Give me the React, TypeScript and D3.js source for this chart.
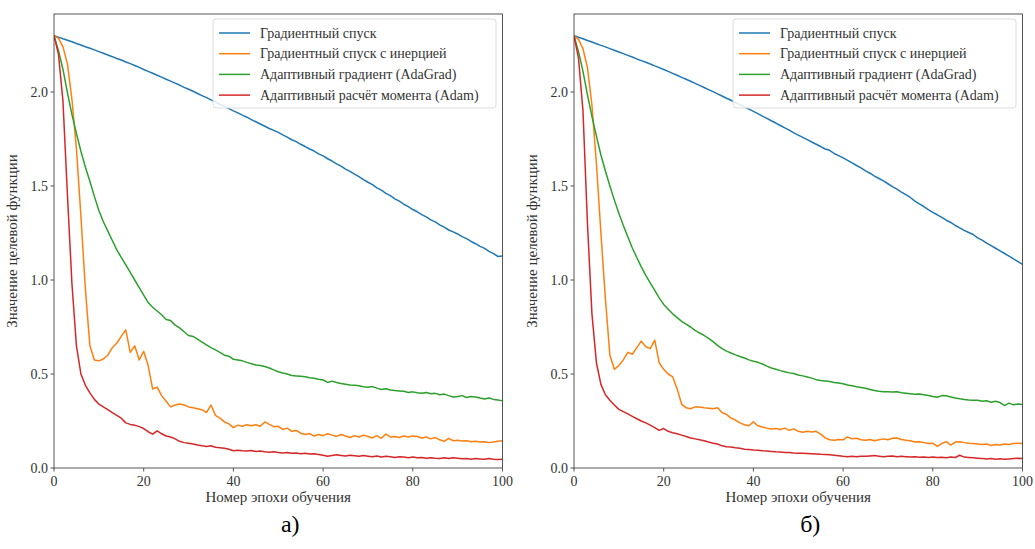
import React from "react";
import * as d3 from "d3";

// epochs 0..100
const epochs = d3.range(0, 101);

const seriesNames = [
  "Градиентный спуск",
  "Градиентный спуск с инерцией",
  "Адаптивный градиент (AdaGrad)",
  "Адаптивный расчёт момента (Adam)",
];
const colors = ["#1f77b4", "#ff7f0e", "#2ca02c", "#d62728"];

const xTicks = [0, 20, 40, 60, 80, 100];
const yTicks = [0, 0.5, 1.0, 1.5, 2.0];

// panel a)
const gdA = [
  2.300, 2.292, 2.283, 2.275, 2.267, 2.258, 2.250, 2.241, 2.233, 2.224, 2.215,
  2.206, 2.197, 2.188, 2.178, 2.170, 2.160, 2.151, 2.141, 2.131, 2.120,
  2.110, 2.100, 2.089, 2.079, 2.068, 2.058, 2.047, 2.037, 2.025, 2.015,
  2.004, 1.992, 1.981, 1.970, 1.958, 1.947, 1.935, 1.924, 1.912, 1.900,
  1.889, 1.877, 1.866, 1.853, 1.842, 1.830, 1.818, 1.806, 1.796, 1.785,
  1.772, 1.760, 1.746, 1.736, 1.722, 1.710, 1.697, 1.686, 1.671, 1.660,
  1.645, 1.633, 1.618, 1.606, 1.590, 1.578, 1.563, 1.550, 1.534, 1.520,
  1.507, 1.490, 1.478, 1.461, 1.449, 1.432, 1.420, 1.403, 1.390, 1.375,
  1.363, 1.348, 1.336, 1.320, 1.309, 1.293, 1.281, 1.266, 1.256, 1.245,
  1.231, 1.220, 1.205, 1.193, 1.179, 1.168, 1.152, 1.140, 1.125, 1.128, 1.110,
];
const momA = [
  2.300, 2.285, 2.240, 2.150, 1.960, 1.700, 1.340, 0.950, 0.650, 0.575, 0.570,
  0.580, 0.600, 0.640, 0.665, 0.700, 0.735, 0.615, 0.650, 0.575, 0.620,
  0.545, 0.420, 0.430, 0.385, 0.355, 0.325, 0.335, 0.340, 0.335, 0.325,
  0.320, 0.315, 0.310, 0.295, 0.335, 0.280, 0.265, 0.245, 0.235, 0.215,
  0.228, 0.222, 0.230, 0.225, 0.230, 0.222, 0.245, 0.232, 0.220, 0.222,
  0.205, 0.212, 0.195, 0.200, 0.185, 0.178, 0.183, 0.170, 0.178, 0.172,
  0.182, 0.175, 0.168, 0.178, 0.170, 0.162, 0.172, 0.165, 0.175, 0.168,
  0.160, 0.172, 0.158, 0.180, 0.165, 0.168, 0.162, 0.170, 0.165, 0.170,
  0.168, 0.160, 0.165, 0.155, 0.162, 0.150, 0.142, 0.158, 0.145, 0.148,
  0.143, 0.145, 0.140, 0.142, 0.138, 0.140, 0.135, 0.138, 0.142, 0.145,
];
const adaA = [
  2.300, 2.220, 2.120, 1.995, 1.880, 1.780, 1.685, 1.600, 1.525, 1.445, 1.370,
  1.310, 1.260, 1.210, 1.160, 1.120, 1.080, 1.040, 1.000, 0.960, 0.920,
  0.880, 0.855, 0.835, 0.815, 0.790, 0.785, 0.760, 0.745, 0.725, 0.705,
  0.700, 0.685, 0.670, 0.655, 0.640, 0.628, 0.615, 0.600, 0.595, 0.578,
  0.575, 0.570, 0.562, 0.555, 0.548, 0.545, 0.540, 0.532, 0.522, 0.512,
  0.505, 0.500, 0.492, 0.490, 0.488, 0.485, 0.480, 0.477, 0.472, 0.468,
  0.455, 0.462, 0.455, 0.450, 0.446, 0.442, 0.440, 0.437, 0.432, 0.430,
  0.433, 0.425, 0.418, 0.422, 0.415, 0.412, 0.410, 0.408, 0.402, 0.405,
  0.400, 0.398, 0.402, 0.395, 0.397, 0.390, 0.393, 0.385, 0.378, 0.380,
  0.385, 0.375, 0.380, 0.378, 0.372, 0.367, 0.372, 0.365, 0.362, 0.357,
];
const adamA = [
  2.300, 2.200, 1.950, 1.450, 0.980, 0.650, 0.500, 0.440, 0.400, 0.365, 0.340,
  0.325, 0.310, 0.295, 0.280, 0.265, 0.240, 0.232, 0.228, 0.220, 0.210,
  0.193, 0.180, 0.198, 0.182, 0.170, 0.165, 0.155, 0.142, 0.135, 0.132,
  0.128, 0.122, 0.118, 0.115, 0.118, 0.110, 0.108, 0.105, 0.100, 0.092,
  0.095, 0.092, 0.090, 0.093, 0.088, 0.090, 0.086, 0.084, 0.087, 0.083,
  0.080, 0.082, 0.078, 0.080, 0.076, 0.078, 0.074, 0.076, 0.072, 0.068,
  0.062, 0.066, 0.070, 0.067, 0.064, 0.068, 0.065, 0.062, 0.066, 0.063,
  0.060, 0.064, 0.058, 0.062, 0.060, 0.056, 0.060, 0.058, 0.055, 0.058,
  0.054, 0.056, 0.052, 0.055, 0.052, 0.050, 0.054, 0.050, 0.055, 0.052,
  0.049, 0.051, 0.047, 0.050, 0.048, 0.046, 0.050, 0.047, 0.045, 0.047,
];

// panel б)
const gdB = [
  2.300, 2.291, 2.283, 2.274, 2.266, 2.257, 2.248, 2.240, 2.231, 2.222, 2.213,
  2.204, 2.195, 2.186, 2.176, 2.167, 2.158, 2.149, 2.139, 2.130, 2.120,
  2.110, 2.099, 2.089, 2.078, 2.068, 2.057, 2.046, 2.035, 2.024, 2.013,
  2.002, 1.990, 1.979, 1.967, 1.956, 1.944, 1.932, 1.921, 1.909, 1.897,
  1.885, 1.872, 1.860, 1.847, 1.835, 1.822, 1.809, 1.797, 1.783, 1.771,
  1.759, 1.747, 1.734, 1.722, 1.710, 1.697, 1.690, 1.673, 1.662, 1.650,
  1.636, 1.623, 1.609, 1.596, 1.581, 1.568, 1.553, 1.540, 1.527, 1.512,
  1.497, 1.483, 1.468, 1.454, 1.439, 1.420, 1.405, 1.391, 1.375, 1.360,
  1.347, 1.333, 1.318, 1.306, 1.290, 1.277, 1.264, 1.253, 1.242, 1.224,
  1.212, 1.196, 1.183, 1.169, 1.155, 1.141, 1.127, 1.112, 1.098, 1.083,
];
const momB = [
  2.300, 2.280, 2.230, 2.130, 1.930, 1.620, 1.250, 0.900, 0.600, 0.525, 0.545,
  0.575, 0.615, 0.605, 0.640, 0.675, 0.645, 0.635, 0.680, 0.560, 0.525,
  0.500, 0.485, 0.420, 0.340, 0.320, 0.315, 0.325, 0.325, 0.320, 0.318,
  0.315, 0.320, 0.295, 0.285, 0.265, 0.255, 0.240, 0.230, 0.225, 0.245,
  0.225, 0.218, 0.212, 0.208, 0.210, 0.205, 0.212, 0.200, 0.208, 0.195,
  0.190, 0.195, 0.192, 0.195, 0.180, 0.160, 0.150, 0.148, 0.152, 0.150,
  0.165, 0.155, 0.158, 0.150, 0.148, 0.152, 0.145, 0.150, 0.155, 0.150,
  0.158, 0.160, 0.152, 0.148, 0.145, 0.138, 0.140, 0.135, 0.130, 0.132,
  0.115, 0.130, 0.140, 0.122, 0.138, 0.140, 0.135, 0.132, 0.130, 0.128,
  0.125, 0.128, 0.120, 0.125, 0.122, 0.128, 0.125, 0.130, 0.132, 0.130,
];
const adaB = [
  2.300, 2.215, 2.110, 1.985, 1.870, 1.765, 1.665, 1.580, 1.500, 1.425, 1.355,
  1.290, 1.230, 1.170, 1.120, 1.070, 1.025, 0.985, 0.945, 0.905, 0.870,
  0.845, 0.820, 0.800, 0.780, 0.765, 0.750, 0.732, 0.718, 0.705, 0.690,
  0.672, 0.652, 0.635, 0.622, 0.612, 0.602, 0.593, 0.585, 0.575, 0.568,
  0.562, 0.553, 0.542, 0.532, 0.525, 0.518, 0.512, 0.506, 0.503, 0.495,
  0.490, 0.484, 0.478, 0.470, 0.466, 0.463, 0.460, 0.455, 0.452, 0.448,
  0.442, 0.438, 0.432, 0.428, 0.424, 0.418, 0.412, 0.408, 0.406, 0.405,
  0.404, 0.406, 0.400, 0.398, 0.395, 0.392, 0.394, 0.390, 0.386, 0.380,
  0.376, 0.385, 0.384, 0.378, 0.372, 0.368, 0.365, 0.362, 0.360, 0.360,
  0.355, 0.358, 0.350, 0.355, 0.348, 0.332, 0.345, 0.336, 0.340, 0.338,
];
const adamB = [
  2.300, 2.180, 1.900, 1.300, 0.820, 0.560, 0.445, 0.390, 0.360, 0.335, 0.312,
  0.300, 0.288, 0.275, 0.262, 0.250, 0.240, 0.228, 0.215, 0.200, 0.210,
  0.195, 0.188, 0.182, 0.175, 0.168, 0.160, 0.155, 0.150, 0.145, 0.138,
  0.132, 0.128, 0.118, 0.113, 0.112, 0.108, 0.105, 0.100, 0.098, 0.096,
  0.095, 0.092, 0.090, 0.088, 0.086, 0.085, 0.083, 0.082, 0.080, 0.079,
  0.078, 0.077, 0.076, 0.075, 0.073, 0.072, 0.070, 0.068, 0.065, 0.062,
  0.060, 0.062, 0.060, 0.063, 0.062, 0.064, 0.066, 0.063, 0.060, 0.062,
  0.064, 0.060, 0.062, 0.060, 0.058, 0.060, 0.057, 0.058, 0.056, 0.058,
  0.056, 0.057, 0.055, 0.058, 0.056, 0.068, 0.058, 0.056, 0.054, 0.052,
  0.050, 0.048, 0.050, 0.047, 0.049, 0.046, 0.048, 0.050, 0.052, 0.050,
];

const font = '"Liberation Serif", "DejaVu Serif", serif';
const tickColor = "#444";

function Panel({ left, caption, data }: { left: number; caption: string; data: number[][] }) {
  const top = 14;
  const width = 448.5;
  const height = 454;
  const x = d3.scaleLinear().domain([0, 100]).range([0, width]);
  const y = d3.scaleLinear().domain([0, 2.415]).range([height, 0]);
  const line = d3
    .line<number>()
    .x((d, i) => x(epochs[i]))
    .y((d) => y(d));

  return (
    <g transform={`translate(${left},${top})`}>
      <defs>
        <clipPath id={`clip-${left}`}>
          <rect x={0} y={0} width={width} height={height} />
        </clipPath>
      </defs>
      <g clipPath={`url(#clip-${left})`}>
        {data.map((s, k) => (
          <path key={k} d={line(s) || ""} fill="none" stroke={colors[k]} strokeWidth={1.5} strokeLinejoin="round" />
        ))}
      </g>
      <rect x={0} y={0} width={width} height={height} fill="none" stroke={tickColor} strokeWidth={0.9} />
      {xTicks.map((t) => (
        <g key={t} transform={`translate(${x(t)},${height})`}>
          <line y2={3.5} stroke={tickColor} strokeWidth={0.9} />
          <text y={18} textAnchor="middle" fontSize={14} fill="#333">
            {t}
          </text>
        </g>
      ))}
      {yTicks.map((t) => (
        <g key={t} transform={`translate(0,${y(t)})`}>
          <line x2={-3.5} stroke={tickColor} strokeWidth={0.9} />
          <text x={-6} dy="0.34em" textAnchor="end" fontSize={14} fill="#333">
            {d3.format(".1f")(t)}
          </text>
        </g>
      ))}
      <text x={width / 2} y={height + 34} textAnchor="middle" fontSize={15} fill="#333">
        Номер эпохи обучения
      </text>
      <text
        transform={`translate(${-37},${height / 2}) rotate(-90)`}
        textAnchor="middle"
        fontSize={15}
        fill="#333"
      >
        Значение целевой функции
      </text>
      <g transform="translate(159,5)">
        <rect x={0} y={0} width={283} height={89} rx={3} fill="#fff" fillOpacity={0.85} stroke="#d8d8d8" strokeWidth={0.9} />
        {seriesNames.map((name, k) => (
          <g key={name} transform={`translate(0,${14 + k * 20.7})`}>
            <line x1={6} x2={37} stroke={colors[k]} strokeWidth={1.5} />
            <text x={47} dy="0.34em" fontSize={14} fill="#333">
              {name}
            </text>
          </g>
        ))}
      </g>
      <text x={width / 2 + 12} y={height + 64} textAnchor="middle" fontSize={24} fill="#000">
        {caption}
      </text>
    </g>
  );
}

export default function App() {
  return (
    <svg
      width={1035}
      height={549}
      style={{ position: "absolute", left: 0, top: 0, background: "#fff", fontFamily: font }}
    >
      <rect width={1035} height={549} fill="#fff" />
      <Panel left={54} caption="а)" data={[gdA, momA, adaA, adamA]} />
      <Panel left={574} caption="б)" data={[gdB, momB, adaB, adamB]} />
    </svg>
  );
}
